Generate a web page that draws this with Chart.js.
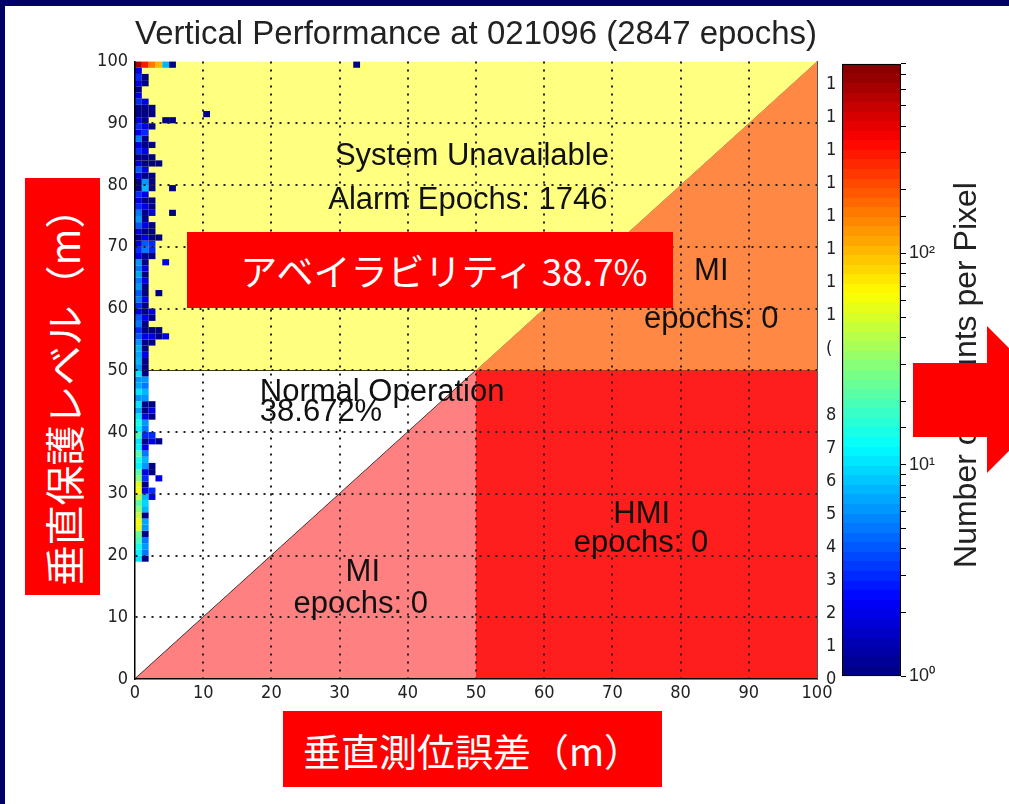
<!DOCTYPE html>
<html lang="ja">
<head>
  <meta charset="UTF-8" />
  <title>Vertical Performance</title>
  <script src="https://cdn.jsdelivr.net/npm/chart.js"></script>
  <style>
    html, body { margin: 0; padding: 0; }
    body { position: relative; width: 1009px; height: 804px; overflow: hidden; background: #fff; }
    .borda_topo { position: absolute; left: 0; top: 0; width: 1009px; height: 6px; background: #000066; }
    .borda_esq { position: absolute; left: 0; top: 0; width: 5px; height: 804px; background: #000066; }
    #grafico { position: absolute; left: 90px; top: 0; }
    #barra_cor { position: absolute; left: 842px; top: 50px; }
    .caixa {
      position: absolute; background: #ff0000; color: #fff;
      font-family: 'Noto Sans CJK JP', sans-serif;
      display: flex; align-items: center; justify-content: center; white-space: nowrap;
    }
    .caixa_y { left: 25px; top: 178px; width: 75px; height: 417px; font-size: 40px; }
    .caixa_y span { display: block; transform: rotate(-90deg); }
    .caixa_x { left: 283px; top: 711px; width: 379px; height: 76px; font-size: 38px; }
    .caixa_disp { left: 187px; top: 232px; width: 458px; height: 76px; font-size: 37px; padding-left: 28px; }
    .seta {
      position: absolute; left: 913px; top: 326px; width: 147px; height: 147px; background: #ff0000;
      clip-path: polygon(0 37px, 74px 37px, 74px 0, 147px 73.5px, 74px 147px, 74px 111px, 0 111px);
    }
    .rotulo_cor {
      position: absolute; left: 965px; top: 375px; transform: translate(-50%, -50%) rotate(-90deg);
      font-family: 'Liberation Sans', Arial, sans-serif; font-size: 32px; color: #222; white-space: nowrap;
    }
  </style>
</head>
<body>
  <div class="borda_topo"></div>
  <div class="borda_esq"></div>

  <canvas id="grafico" width="752" height="712"></canvas>
  <canvas id="barra_cor" width="110" height="640"></canvas>

  <div class="rotulo_cor">Number of counts per Pixel</div>
  <div class="seta"></div>
  <div class="caixa caixa_y"><span>垂直保護レベル（m）</span></div>
  <div class="caixa caixa_x">垂直測位誤差（m）</div>
  <div class="caixa caixa_disp">アベイラビリティ 38.7%</div>

  <script>
    const titulo = 'Vertical Performance at 021096 (2847 epochs)';

    // contornos das regioes (metros)
    const unavailableZone = [{x: 0, y: 50}, {x: 50, y: 50}, {x: 100, y: 100}, {x: 0, y: 100}];
    const unavailMiZone = [{x: 50, y: 50}, {x: 100, y: 100}, {x: 100, y: 50}];
    const miZone = [{x: 0, y: 0}, {x: 50, y: 50}, {x: 50, y: 0}];
    const hmiZone = [{x: 50, y: 0}, {x: 100, y: 0}, {x: 100, y: 50}, {x: 50, y: 50}];

    const xTicks = [0, 10, 20, 30, 40, 50, 60, 70, 80, 90, 100];
    const colorTicks = [1, 10, 100];
    const colorMax = 790;

    // histograma: contagem por pixel de 1 m, colunas x = 0..2, linhas y = 19..99
    const heatYStart = 19;
    const countsX0 = [10, 12, 15, 20, 25, 55, 60, 45, 30, 22, 40, 60, 55, 30, 22, 12, 15, 22, 12, 10,
      20, 12, 15, 10, 7, 10, 6, 10, 7, 6, 10,
      6, 8, 7, 8, 6, 4, 3, 5, 4, 2, 3, 5, 4, 6, 5, 7, 5, 6, 2, 3,
      2, 1, 2, 4, 6, 5, 3, 2, 3, 1, 1, 2, 4, 2, 1, 3, 2, 5, 2, 3,
      2, 1, 1, 3, 2, 1, 2, 3, 2, 600];
    const countsX1 = [1, 5, 6, 5, 1, 6, 7, 1, 8, 9, 8, 2, 1, 3, 2, 6, 8, 5, 2, 1,
      3, 5, 6, 2, 1, 1, 6, 8, 5, 6, 1,
      1, 1, 2, 1, 1, 2, 1, 1, 2, 1, 1, 2, 1, 1, 2, 1, 2, 1, 1, 5,
      4, 2, 1, 2, 1, 1, 2, 1, 2, 8, 6, 1, 2, 1, 1, 2, 1, 1, 3, 2,
      1, 1, 1, 2, 0, 0, 1, 1, 0, 300];
    const countsX2 = [0, 0, 0, 0, 0, 0, 0, 0, 0, 0, 2, 3, 0, 0, 1, 1, 0, 0, 0, 2,
      3, 0, 0, 1, 2, 1, 0, 0, 0, 0, 0,
      0, 0, 0, 0, 1, 2, 1, 0, 1, 2, 0, 0, 0, 0, 0, 0, 0, 0, 1, 3,
      3, 1, 1, 1, 0, 2, 1, 1, 0, 1, 1, 1, 0, 1, 1, 0, 1, 0, 0, 1,
      0, 1, 1, 0, 0, 0, 0, 0, 0, 150];
    const heatColumns = [countsX0, countsX1, countsX2];
    // pixels esparsos (x, y, contagem)
    const sparseX = [3, 3, 3, 3, 3, 3, 3, 3, 4, 4, 4, 4, 5, 5, 5, 5, 10, 32];
    const sparseY = [32, 38, 55, 56, 62, 71, 83, 99, 55, 67, 90, 99, 75, 79, 90, 99, 91, 99];
    const sparseN = [2, 1, 1, 1, 1, 1, 1, 100, 2, 2, 1, 8, 1, 1, 1, 1, 1, 1];

    // textos dentro do grafico [texto, x, y, alinhamento]
    const notas = [
      ['System Unavailable', 49.4, 84.6, 'center'],
      ['Alarm Epochs: 1746', 48.8, 77.5, 'center'],
      ['MI', 84.5, 66, 'center'],
      ['epochs: 0', 84.5, 58.2, 'center'],
      ['Normal Operation', 18.3, 46.4, 'left'],
      ['38.672%', 18.3, 43.1, 'left'],
      ['MI', 33.4, 17.2, 'center'],
      ['epochs: 0', 33.1, 12.0, 'center'],
      ['HMI', 74.3, 26.7, 'center'],
      ['epochs: 0', 74.2, 22.0, 'center']
    ];

    function jet(t) {
      const c = v => Math.round(255 * Math.max(0, Math.min(1, v)));
      return 'rgb(' + c(1.5 - Math.abs(4 * t - 3)) + ',' + c(1.5 - Math.abs(4 * t - 2)) + ',' + c(1.5 - Math.abs(4 * t - 1)) + ')';
    }
    function countColor(n) {
      const t = Math.log10(n) / Math.log10(colorMax);
      const level = Math.max(0, Math.min(63, Math.floor(t * 64)));
      return jet((level + 0.5) / 64);
    }

    const heatmapPlugin = {
      id: 'heatmap',
      afterDatasetsDraw(chart) {
        const {ctx, scales: {x, y}} = chart;
        const cell = (cx, cy, n) => {
          const l = x.getPixelForValue(cx), r = x.getPixelForValue(cx + 1);
          const t = y.getPixelForValue(cy + 1), b = y.getPixelForValue(cy);
          ctx.fillStyle = countColor(n);
          ctx.fillRect(l, t, r - l, b - t);
        };
        ctx.save();
        heatColumns.forEach((col, i) => {
          col.forEach((n, j) => { if (n > 0) cell(i, heatYStart + j, n); });
        });
        sparseX.forEach((cx, k) => cell(cx, sparseY[k], sparseN[k]));
        ctx.restore();
      }
    };

    const notasPlugin = {
      id: 'notas',
      afterDraw(chart) {
        const {ctx, scales: {x, y}} = chart;
        ctx.save();
        ctx.font = '31px "Liberation Sans", Arial, sans-serif';
        ctx.fillStyle = '#111';
        ctx.textBaseline = 'middle';
        notas.forEach(([txt, nx, ny, al]) => {
          ctx.textAlign = al;
          ctx.fillText(txt, x.getPixelForValue(nx), y.getPixelForValue(ny));
        });
        ctx.restore();
      }
    };

    const zona = (data, cor) => ({
      data, showLine: true, fill: 'shape', backgroundColor: cor,
      borderWidth: 0, pointRadius: 0, tension: 0
    });
    const linha = (data) => ({
      data, showLine: true, fill: false, borderColor: '#000',
      borderWidth: 1.2, pointRadius: 0, tension: 0
    });

    const tickFont = {family: "'Liberation Sans Narrow', 'DejaVu Sans Condensed', sans-serif", size: 18};
    const gridCor = c => (c.tick && (c.tick.value === 0 || c.tick.value === 100)) ? 'rgba(0,0,0,0)' : '#222';

    const ctx = document.getElementById('grafico').getContext('2d');
    const grafico = new Chart(ctx, {
      type: 'scatter',
      data: {
        datasets: [
          zona(unavailableZone, '#ffff80'),
          zona(unavailMiZone, '#ff8844'),
          zona(miZone, '#ff8080'),
          zona(hmiZone, '#ff1e1e'),
          linha([{x: 0, y: 0}, {x: 100, y: 100}]),
          linha([{x: 0, y: 50}, {x: 100, y: 50}]),
          linha([{x: 50, y: 0}, {x: 50, y: 50}])
        ]
      },
      options: {
        responsive: false,
        animation: false,
        plugins: {
          legend: {display: false},
          tooltip: {enabled: false},
          title: {
            display: true, text: titulo, fullSize: false, color: '#222',
            font: {family: "'Liberation Sans', Arial, sans-serif", size: 33, weight: 'normal'},
            padding: {top: 15, bottom: 7}
          }
        },
        scales: {
          x: {
            type: 'linear', min: 0, max: 100,
            afterBuildTicks: s => { s.ticks = xTicks.map(v => ({value: v})); },
            ticks: {font: tickFont, color: '#222', padding: 4, maxRotation: 0},
            grid: {color: gridCor, lineWidth: 2, drawTicks: false, z: 1},
            border: {color: '#000', width: 1.5, dash: [2, 6], z: 1},
            afterFit: s => { s.height = 33; }
          },
          y: {
            type: 'linear', min: 0, max: 100,
            afterBuildTicks: s => { s.ticks = xTicks.map(v => ({value: v})); },
            ticks: {font: tickFont, color: '#222', padding: 7},
            grid: {color: gridCor, lineWidth: 2, drawTicks: false, z: 1},
            border: {color: '#000', width: 1.5, dash: [2, 6], z: 1},
            afterFit: s => { s.width = 45; }
          },
          y2: {
            type: 'linear', position: 'right', min: 0, max: 18.7,
            ticks: {
              stepSize: 1, font: tickFont, color: '#222', padding: 9, autoSkip: false,
              callback: v => !Number.isInteger(v) ? '' : v <= 8 ? String(v) : v === 9 ? '' : v === 10 ? '(' : '1'
            },
            grid: {drawOnChartArea: false, drawTicks: false},
            border: {color: '#555', width: 1, z: 1},
            afterFit: s => { s.width = 25; }
          }
        }
      },
      plugins: [heatmapPlugin, notasPlugin]
    });

    // barra de cores (escala log)
    const ctx2 = document.getElementById('barra_cor').getContext('2d');
    const barraCor = new Chart(ctx2, {
      type: 'bar',
      data: {
        labels: ['n'],
        datasets: [{
          data: [[1, colorMax]],
          backgroundColor: c => {
            const area = c.chart.chartArea;
            if (!area) return '#000080';
            const g = c.chart.ctx.createLinearGradient(0, area.bottom, 0, area.top);
            for (let i = 0; i < 64; i++) {
              const cor = jet((i + 0.5) / 64);
              g.addColorStop(i / 64, cor);
              g.addColorStop((i + 1) / 64, cor);
            }
            return g;
          },
          borderColor: '#000', borderWidth: 1.5, borderSkipped: false,
          barPercentage: 1, categoryPercentage: 1
        }]
      },
      options: {
        responsive: false,
        animation: false,
        layout: {padding: {top: 12, bottom: 11, left: 0, right: 0}},
        plugins: {legend: {display: false}, tooltip: {enabled: false}},
        scales: {
          x: {display: false},
          y: {
            type: 'logarithmic', position: 'right', min: 1, max: colorMax,
            ticks: {
              autoSkip: false, color: '#222', padding: 3,
              font: {family: "'Liberation Sans', Arial, sans-serif", size: 18},
              callback: v => colorTicks.includes(v) ? ['10⁰', '10¹', '10²'][colorTicks.indexOf(v)] : ''
            },
            grid: {drawOnChartArea: false, tickLength: 5, color: '#000'},
            border: {display: false},
            afterFit: s => { s.width = 51; }
          }
        }
      }
    });
  </script>
</body>
</html>
